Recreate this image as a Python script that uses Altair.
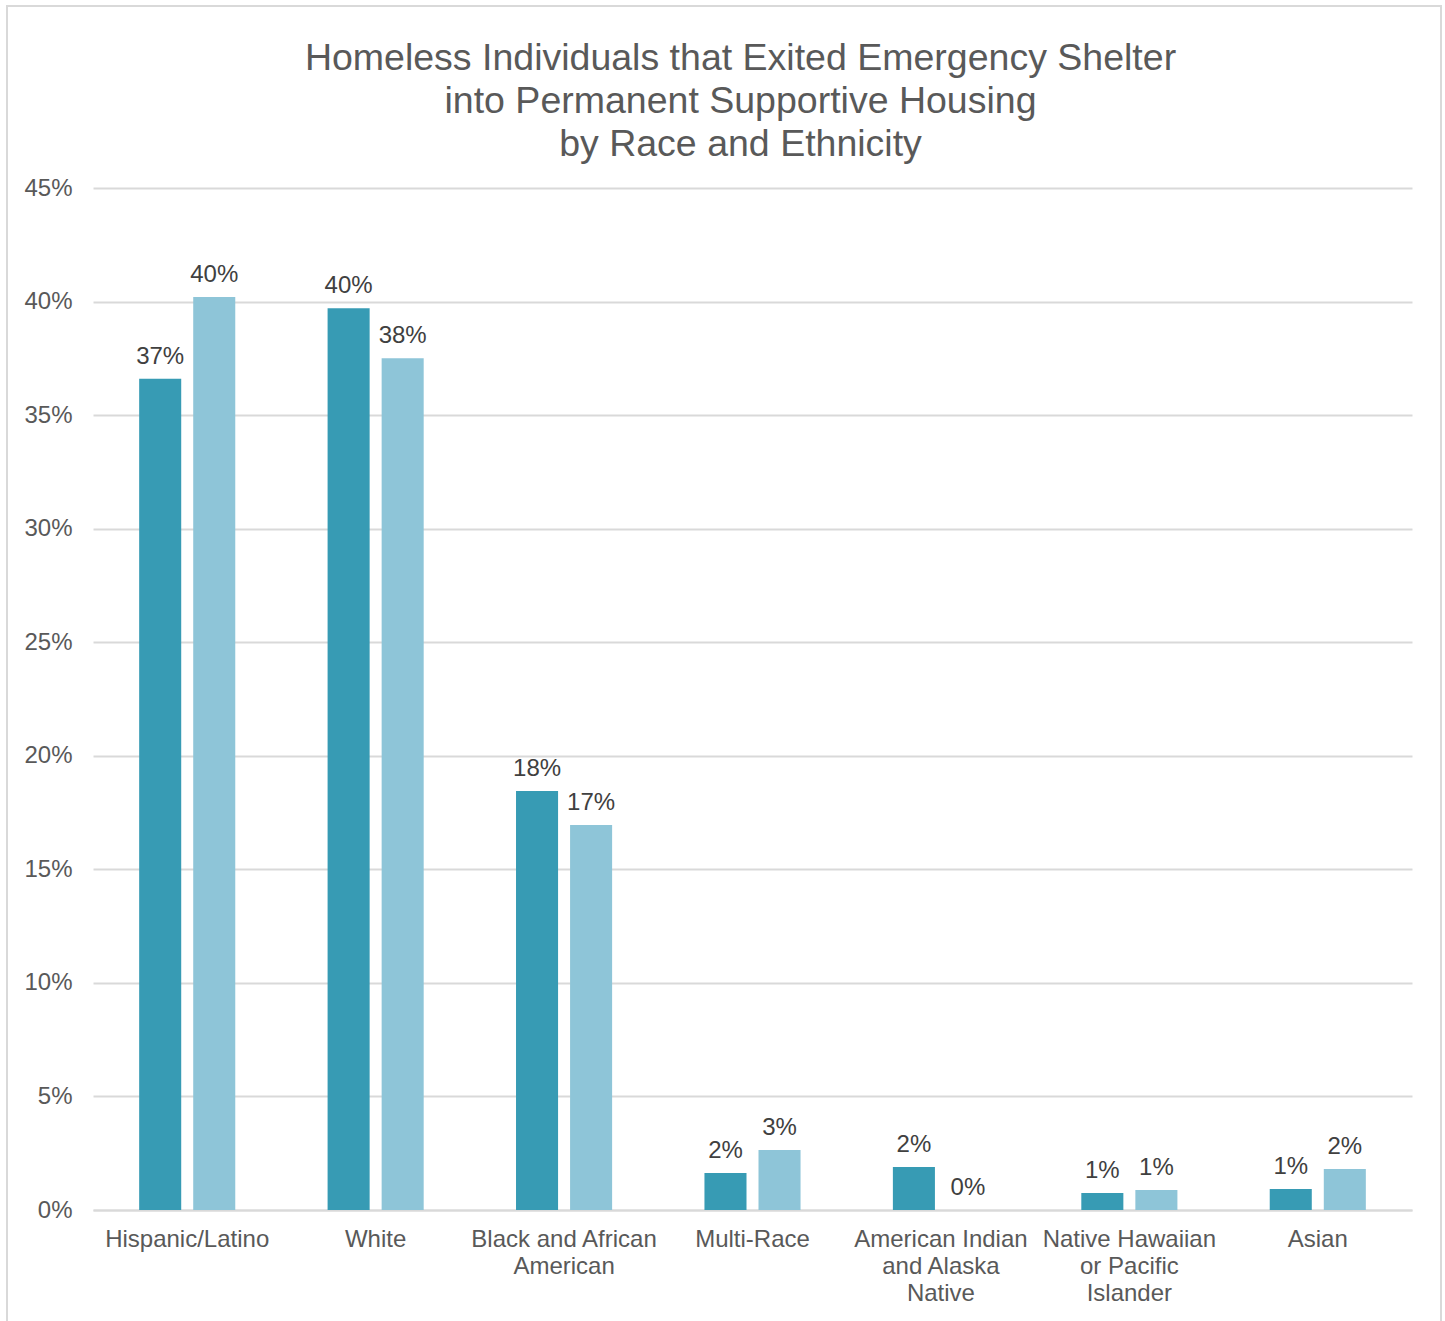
import altair as alt
import pandas as pd

categories = [
    "Hispanic/Latino",
    "White",
    "Black and African\nAmerican",
    "Multi-Race",
    "American Indian\nand Alaska\nNative",
    "Native Hawaiian\nor Pacific\nIslander",
    "Asian",
]
series_names = ["Series 1", "Series 2"]
series1 = [0.366, 0.397, 0.1845, 0.0163, 0.0189, 0.0075, 0.0092]
series2 = [0.402, 0.375, 0.1695, 0.0264, 0.0, 0.0088, 0.018]
colors = ["#379BB4", "#8EC5D8"]
y_ticks = [0, 0.05, 0.10, 0.15, 0.20, 0.25, 0.30, 0.35, 0.40, 0.45]

rows = []
for c, a, b in zip(categories, series1, series2):
    rows.append({"category": c, "series": series_names[0], "value": a})
    rows.append({"category": c, "series": series_names[1], "value": b})
df = pd.DataFrame(rows)

FONT = "Liberation Sans"

x_enc = alt.X(
    "category:N",
    sort=categories,
    scale=alt.Scale(paddingInner=0.49, paddingOuter=0.245),
    axis=alt.Axis(
        title=None,
        labelAngle=0,
        labelExpr="split(datum.label, '\\n')",
        labelLineHeight=27,
        labelFontSize=24,
        labelColor="#595959",
        labelFont=FONT,
        labelPadding=17,
        labelBaseline="top",
        labelLimit=400,
        ticks=False,
        domain=True,
        domainColor="#D9D9D9",
        domainWidth=2,
        grid=False,
    ),
)
y_enc = alt.Y(
    "value:Q",
    scale=alt.Scale(domain=[0, 0.45], nice=False),
    axis=alt.Axis(
        title=None,
        values=y_ticks,
        format=".0%",
        labelFontSize=24,
        labelColor="#595959",
        labelFont=FONT,
        labelPadding=21,
        ticks=False,
        domain=False,
        grid=True,
        gridColor="#D9D9D9",
        gridWidth=2,
    ),
)
xoff = alt.XOffset(
    "series:N",
    sort=series_names,
    scale=alt.Scale(paddingInner=0.222, paddingOuter=0),
)
color_enc = alt.Color(
    "series:N",
    scale=alt.Scale(domain=series_names, range=colors),
    legend=None,
)

bars = alt.Chart(df).mark_bar().encode(
    x=x_enc, xOffset=xoff, y=y_enc, color=color_enc
)
labels = alt.Chart(df).mark_text(
    baseline="alphabetic", dy=-15, fontSize=24, font=FONT, color="#404040"
).encode(
    x=alt.X("category:N", sort=categories),
    xOffset=xoff,
    y="value:Q",
    text=alt.Text("value:Q", format=".0%"),
)
border = alt.Chart(alt.Data(values=[{"k": 1}])).mark_rect(
    fill=None, stroke="#D9D9D9", strokeWidth=2
).encode(
    x=alt.value(-86), x2=alt.value(1348), y=alt.value(-182), y2=alt.value(1200)
)

chart = (
    alt.layer(border, bars, labels)
    .properties(
        width=1319,
        height=1022,
        title=alt.TitleParams(
            text=[
                "Homeless Individuals that Exited Emergency Shelter",
                "into Permanent Supportive Housing",
                "by Race and Ethnicity",
            ],
            fontSize=37.5,
            font=FONT,
            fontWeight="normal",
            color="#595959",
            lineHeight=43,
            anchor="middle",
            dx=-12,
            offset=-158,
        ),
        autosize=alt.AutoSizeParams(type="none"),
        padding={"left": 93, "top": 188, "right": 33, "bottom": 111},
    )
    .configure(background="white")
    .configure_view(strokeWidth=0, stroke="transparent")
)

chart.save("out.html", embed_options={"renderer": "svg", "actions": False})
